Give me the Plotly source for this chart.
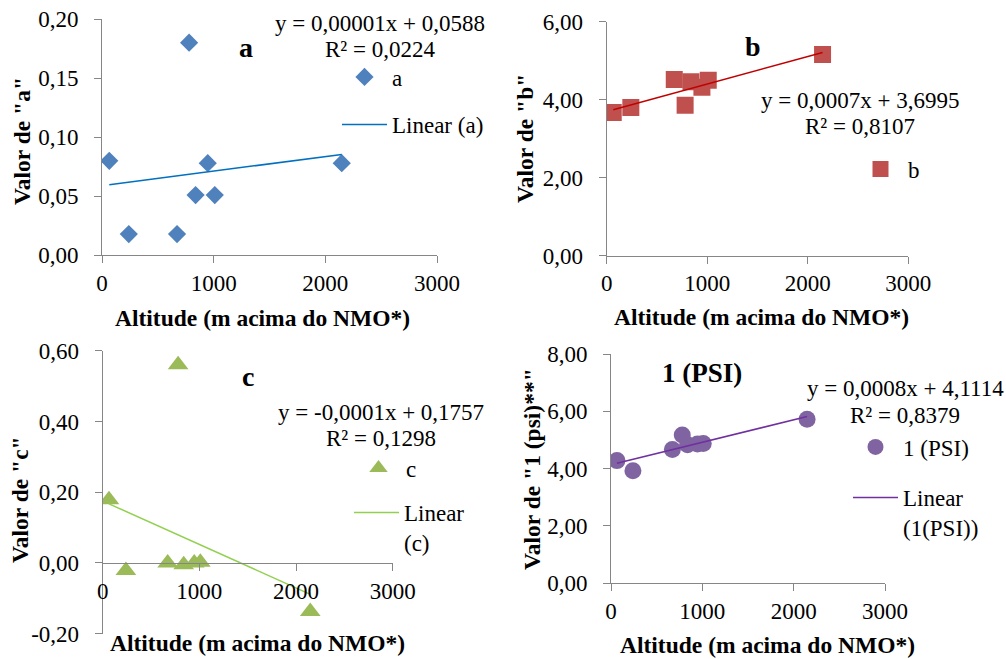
import numpy as np
import plotly.graph_objects as go

# ---------------- data ----------------
altitude = [65, 240, 672, 780, 838, 947, 1010, 2147]
val_a = [0.080, 0.018, 0.018, 0.180, 0.051, 0.078, 0.051, 0.078]
val_b = [3.67, 3.80, 4.52, 3.86, 4.46, 4.32, 4.50, 5.16]
val_c = [0.179, -0.021, 0.000, 0.560, -0.005, 0.000, 0.002, -0.137]
val_psi = [4.28, 3.93, 4.67, 5.17, 4.83, 4.86, 4.88, 5.72]

x_ticks = [0, 1000, 2000, 3000]
x_ticktext = ["0", "1000", "2000", "3000"]
a_ticks = [0.0, 0.05, 0.10, 0.15, 0.20]
a_ticktext = ["0,00", "0,05", "0,10", "0,15", "0,20"]
b_ticks = [0, 2, 4, 6]
b_ticktext = ["0,00", "2,00", "4,00", "6,00"]
c_ticks = [-0.2, 0.0, 0.2, 0.4, 0.6]
c_ticktext = ["-0,20", "0,00", "0,20", "0,40", "0,60"]
d_ticks = [0, 2, 4, 6, 8]
d_ticktext = ["0,00", "2,00", "4,00", "6,00", "8,00"]

eq_a = ["y = 0,00001x + 0,0588", "R² = 0,0224"]
eq_b = ["y = 0,0007x + 3,6995", "R² = 0,8107"]
eq_c = ["y = -0,0001x + 0,1757", "R² = 0,1298"]
eq_d = ["y = 0,0008x + 4,1114", "R² = 0,8379"]

# ---------------- layout helpers ----------------
W, H = 1006, 659
FONT = "'Liberation Serif', 'Times New Roman', Times, 'DejaVu Serif', serif"
FS = 23
AX = "#868686"


def px(x):
    return x / W


def py(y):
    return 1 - y / H


def trend(xs, ys):
    k, b = np.polyfit(xs, ys, 1)
    xr = [min(xs), max(xs)]
    return xr, [k * v + b for v in xr]


fig = go.Figure()

panels = [
    dict(n="", y=val_a, name="a", sym="diamond", size=14, col="#4F81BD", lcol="#0070C0",
         lname="Linear (a)", xd=(102, 437), yd=(19, 255.3), rng=[0, 0.2],
         tv=a_ticks, tt=a_ticktext),
    dict(n="2", y=val_b, name="b", sym="square", size=17, col="#C0504D", lcol="#C00000",
         lname=None, xd=(606.7, 908.3), yd=(21.7, 255.7), rng=[0, 6],
         tv=b_ticks, tt=b_ticktext),
    dict(n="3", y=val_c, name="c", sym="triangle-up", size=18, col="#9BBB59", lcol="#92D050",
         lname="Linear<br>(c)", xd=(102.7, 392.7), yd=(350.7, 633.7), rng=[-0.2, 0.6],
         tv=c_ticks, tt=c_ticktext),
    dict(n="4", y=val_psi, name="1 (PSI)", sym="circle", size=17, col="#8064A2", lcol="#7030A0",
         lname="Linear<br>(1(PSI))", xd=(611, 885), yd=(354, 583.3), rng=[0, 8],
         tv=d_ticks, tt=d_ticktext),
]

# legend positions (pixels): marker legend, line legend
leg_pos = [
    ((337, 77), (337, 125)),
    ((853, 169), None),
    ((351, 468), (349, 513)),
    ((848, 447), (848, 498)),
]

legend_layouts = {}
li = 1
for p, (mpos, lpos) in zip(panels, leg_pos):
    xa = "x" + p["n"]
    ya = "y" + p["n"]
    lgm = "legend" if li == 1 else f"legend{li}"
    fig.add_trace(go.Scatter(
        x=altitude, y=p["y"], mode="markers", name=p["name"],
        marker=dict(symbol=p["sym"], size=p["size"], color=p["col"], line=dict(width=0)),
        xaxis=xa, yaxis=ya, legend=lgm, showlegend=True))
    legend_layouts[lgm] = dict(x=px(mpos[0]), y=py(mpos[1]), xanchor="left", yanchor="middle",
                               font=dict(family=FONT, size=FS, color="black"),
                               bgcolor="rgba(0,0,0,0)", borderwidth=0, itemwidth=45)
    li += 1
    tx, ty = trend(altitude, p["y"])
    if p["lname"]:
        lgl = f"legend{li}"
        fig.add_trace(go.Scatter(
            x=tx, y=ty, mode="lines", name=p["lname"],
            line=dict(color=p["lcol"], width=1.5),
            xaxis=xa, yaxis=ya, legend=lgl, showlegend=True))
        legend_layouts[lgl] = dict(x=px(lpos[0]), y=py(lpos[1] - 22), xanchor="left", yanchor="top",
                                   font=dict(family=FONT, size=FS, color="black"),
                                   bgcolor="rgba(0,0,0,0)", borderwidth=0, itemwidth=45,
                                   valign="top")
        li += 1
    else:
        fig.add_trace(go.Scatter(
            x=tx, y=ty, mode="lines", name="Linear (b)",
            line=dict(color=p["lcol"], width=1.5),
            xaxis=xa, yaxis=ya, showlegend=False))

layout = dict(
    template="none",
    width=W, height=H, margin=dict(l=0, r=0, t=0, b=0, autoexpand=False),
    paper_bgcolor="white", plot_bgcolor="white",
    font=dict(family=FONT, size=FS, color="black"),
)
layout.update(legend_layouts)

for p in panels:
    n = p["n"]
    y0, y1 = py(p["yd"][1]), py(p["yd"][0])
    xaxis = dict(domain=[px(p["xd"][0]), px(p["xd"][1])], range=[0, 3000],
                 tickvals=x_ticks, ticktext=x_ticktext, showgrid=False, zeroline=False,
                 showline=True, linecolor=AX, linewidth=1, ticks="outside", ticklen=7,
                 tickcolor=AX, tickfont=dict(family=FONT, size=FS, color="black"),
                 ticklabelstandoff=0, automargin=False,
                 anchor="y" + n, fixedrange=True)
    if n == "3":
        r0, r1 = p["rng"]
        pos = y0 + (0 - r0) / (r1 - r0) * (y1 - y0)
        xaxis.update(anchor="free", position=pos)
    yaxis = dict(domain=[y0, y1], range=p["rng"], tickvals=p["tv"], ticktext=p["tt"],
                 showgrid=False, zeroline=False, showline=True, linecolor=AX, linewidth=1,
                 ticks="outside", ticklen=7, tickcolor=AX,
                 tickfont=dict(family=FONT, size=FS, color="black"),
                 ticklabelstandoff=11, automargin=False, anchor="x" + n, fixedrange=True)
    layout["xaxis" + n] = xaxis
    layout["yaxis" + n] = yaxis

fig.update_layout(**layout)

# ---------------- text annotations ----------------
ann = []


def text(x, y, s, size=FS, bold=False, angle=0):
    ann.append(dict(x=px(x), y=py(y), xref="paper", yref="paper", text=s, showarrow=False,
                    xanchor="center", yanchor="middle", textangle=angle,
                    font=dict(family=FONT, size=size, color="black",
                              weight="bold" if bold else "normal")))


TS = 23.5
xtitle = "Altitude (m acima do NMO*)"
text(262, 318, xtitle, size=TS, bold=True)
text(761, 317, xtitle, size=TS, bold=True)
text(257, 643, xtitle, size=TS, bold=True)
text(767, 645, xtitle, size=TS, bold=True)

text(22, 141, 'Valor de "a"', size=TS, bold=True, angle=-90)
text(525, 139, 'Valor de "b"', size=TS, bold=True, angle=-90)
text(20, 500, 'Valor de "c"', size=TS, bold=True, angle=-90)
text(532, 469, 'Valor de "1 (psi)**"', size=TS, bold=True, angle=-90)

text(246, 47, "a", size=28, bold=True)
text(753, 46, "b", size=28, bold=True)
text(248, 376, "c", size=28, bold=True)
text(702, 373, "1 (PSI)", size=27, bold=True)

for (cx, y1, y2), eq in zip([(380, 24, 49), (860, 100, 126), (381, 412, 438), (905, 388, 415)],
                            [eq_a, eq_b, eq_c, eq_d]):
    text(cx, y1, eq[0])
    text(cx, y2, eq[1])

fig.update_layout(annotations=ann)
fig.write_html("out.html", config={"displayModeBar": False},
               post_script="document.body.style.margin='0';")
